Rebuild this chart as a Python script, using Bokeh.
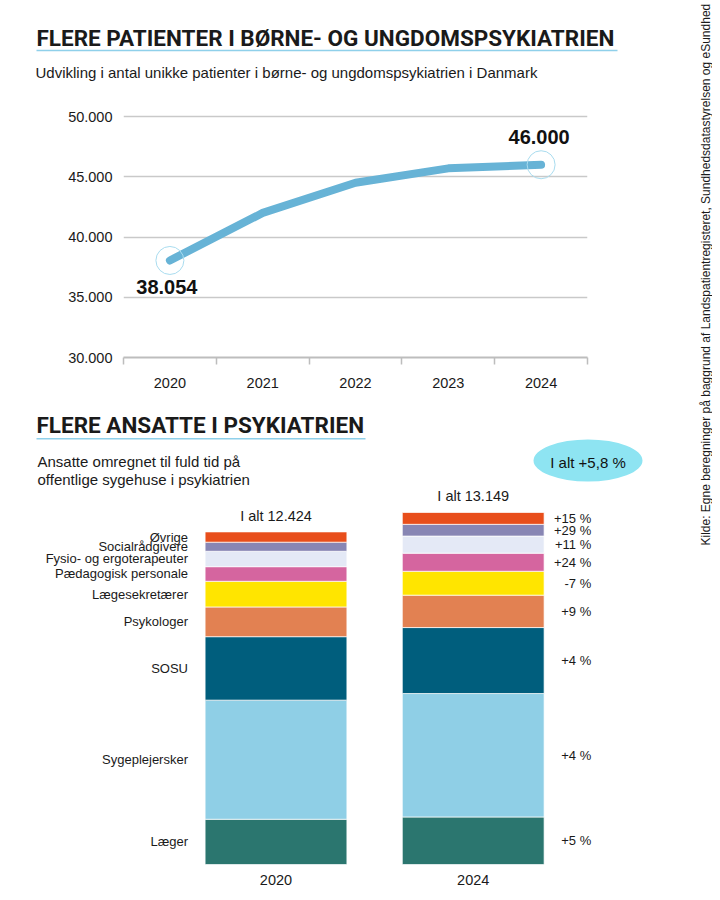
import math
from bokeh.plotting import figure
from bokeh.models import Range1d, FixedTicker, Label, ColumnDataSource
from bokeh.layouts import column, row
from bokeh.embed import file_html
from bokeh.resources import INLINE
from bokeh.core.properties import value

# ---------------- data ----------------
years = [2020, 2021, 2022, 2023, 2024]
patients = [38054, 42000, 44500, 45700, 46000]
y_ticks = [30000, 35000, 40000, 45000, 50000]
y_tick_labels = ["30.000", "35.000", "40.000", "45.000", "50.000"]

staff_years = [2020, 2024]
staff_groups = ["Læger", "Sygeplejersker", "SOSU", "Psykologer", "Lægesekretærer",
                "Pædagogisk personale", "Fysio- og ergoterapeuter", "Socialrådgivere", "Øvrige"]
staff_2020 = [1690, 4450, 2370, 1110, 960, 545, 575, 340, 384]
staff_2024 = [1775, 4611, 2465, 1210, 893, 676, 638, 439, 442]
staff_colors = ["#2b766f", "#8fcfe6", "#005e7d", "#e28152", "#ffe500",
                "#d5659f", "#e4e9f6", "#8886b4", "#e84e1b"]

title_top = "FLERE PATIENTER I BØRNE- OG UNGDOMSPSYKIATRIEN"
subtitle_top = "Udvikling i antal unikke patienter i børne- og ungdomspsykiatrien i Danmark"
title_bottom = "FLERE ANSATTE I PSYKIATRIEN"
subtitle_bottom = ["Ansatte omregnet til fuld tid på", "offentlige sygehuse i psykiatrien"]
source_text = "Kilde: Egne beregninger på baggrund af Landspatientregisteret,  Sundhedsdatastyrelsen og eSundhed"

# ---------------- styles ----------------
TITLE_FONT = "Roboto"
FONT = "Liberation Sans"
DARK = "#1a1a1a"
W_MAIN = 684


def dk(n):
    return f"{n:,}".replace(",", ".")


def blank(w, h, xr, yr):
    p = figure(width=w, height=h, x_range=xr, y_range=yr, x_axis_type=None, y_axis_type=None,
               toolbar_location=None, output_backend="svg", min_border=0, frame_align=False)
    p.outline_line_color = None
    p.background_fill_color = "white"
    p.border_fill_color = "white"
    return p


# ---------------- header (top) ----------------
pa = blank(W_MAIN, 98, Range1d(0, W_MAIN), Range1d(98, 0))
pa.add_layout(Label(x=36, y=37, text=title_top, text_font=TITLE_FONT, text_font_style="bold",
                    text_font_size="22.5px", text_baseline="middle", text_color=DARK))
pa.segment(x0=[36], y0=[50], x1=[617], y1=[50], line_color="#8fd0ea", line_width=1.5)
pa.add_layout(Label(x=35, y=72, text=subtitle_top, text_font=FONT, text_font_size="15px",
                    text_baseline="middle", text_color=DARK))

# ---------------- line chart ----------------
pb = figure(width=W_MAIN, height=306, x_range=Range1d(2019.5, 2024.5), y_range=Range1d(30000, 51000),
            toolbar_location=None, output_backend="svg", frame_align=False,
            min_border_left=123, min_border_right=97, min_border_top=6, min_border_bottom=47)
pb.outline_line_color = None
pb.xgrid.visible = False
pb.ygrid.ticker = FixedTicker(ticks=y_ticks)
pb.ygrid.grid_line_color = "#c9c9c9"
pb.ygrid.grid_line_width = 1.5

pb.yaxis.ticker = FixedTicker(ticks=y_ticks)
pb.yaxis.major_label_overrides = dict(zip(y_ticks, y_tick_labels))
pb.yaxis.axis_line_color = None
pb.yaxis.major_tick_line_color = None
pb.yaxis.major_tick_out = 0
pb.yaxis.minor_tick_line_color = None
pb.yaxis.major_label_standoff = 11
pb.yaxis.major_label_text_font = FONT
pb.yaxis.major_label_text_font_size = "14.5px"
pb.yaxis.major_label_text_color = DARK

bounds = [y - 0.5 for y in years] + [years[-1] + 0.5]
pb.xaxis.ticker = FixedTicker(ticks=years, minor_ticks=bounds)
pb.xaxis.axis_line_color = "#bdbdbd"
pb.xaxis.axis_line_width = 2
pb.xaxis.major_tick_line_color = None
pb.xaxis.major_tick_out = 0
pb.xaxis.minor_tick_line_color = "#bdbdbd"
pb.xaxis.minor_tick_line_width = 1.5
pb.xaxis.minor_tick_in = 0
pb.xaxis.minor_tick_out = 7
pb.xaxis.major_label_standoff = 13
pb.xaxis.major_label_text_font = FONT
pb.xaxis.major_label_text_font_size = "14.5px"
pb.xaxis.major_label_text_color = DARK

pb.line(years, patients, line_width=8, line_color="#67b3d6", line_cap="round", line_join="round")
pb.scatter([years[0], years[-1]], [patients[0], patients[-1]], size=28, fill_color=None,
           line_color="#a9dcef", line_width=1)
vsrc = ColumnDataSource(dict(x=[years[0], years[-1]], y=[patients[0], patients[-1]],
                             t=[dk(patients[0]), dk(patients[-1])], dy=[27, -28], dx=[-3, -2]))
pb.text(x="x", y="y", text="t", source=vsrc, y_offset="dy", x_offset="dx", text_align="center",
        text_baseline="middle", text_font=value(FONT), text_font_style="bold",
        text_font_size="20px", text_color="#111111")

# ---------------- stacked bars ----------------
C_H, C_FRAME_H = 488, 460
PX_PER_YEAR = 49.3
XS = 2020 - 275.5 / PX_PER_YEAR
XE = XS + W_MAIN / PX_PER_YEAR
YE = 17183.0
BAR_W = 141.8 / PX_PER_YEAR


def cx(px):
    return XS + px / PX_PER_YEAR


def cy(py):
    return YE * (1 - py / C_FRAME_H)


pc = figure(width=W_MAIN, height=C_H, x_range=Range1d(XS, XE), y_range=Range1d(0, YE),
            y_axis_type=None, toolbar_location=None, output_backend="svg", frame_align=False,
            min_border_left=0, min_border_right=0, min_border_top=0, min_border_bottom=C_H - C_FRAME_H)
pc.outline_line_color = None
pc.xgrid.visible = False
pc.xaxis.ticker = FixedTicker(ticks=staff_years)
pc.xaxis.axis_line_color = None
pc.xaxis.major_tick_line_color = None
pc.xaxis.major_tick_out = 0
pc.xaxis.minor_tick_line_color = None
pc.xaxis.major_label_standoff = 10
pc.xaxis.major_label_text_font = FONT
pc.xaxis.major_label_text_font_size = "14.5px"
pc.xaxis.major_label_text_color = DARK

data = {"year": staff_years}
for g, a, b in zip(staff_groups, staff_2020, staff_2024):
    data[g] = [a, b]
src = ColumnDataSource(data)
pc.vbar_stack(staff_groups, x="year", width=BAR_W, color=staff_colors, line_color="white",
              line_width=1, line_alpha=0.7, source=src)

# segment centres
c20, c24 = [], []
b20 = b24 = 0
for a, b in zip(staff_2020, staff_2024):
    c20.append(b20 + a / 2)
    c24.append(b24 + b / 2)
    b20 += a
    b24 += b
tot20, tot24 = sum(staff_2020), sum(staff_2024)
pcts = [f"{(b / a - 1) * 100:+.0f} %" for a, b in zip(staff_2020, staff_2024)]

pc.text(x=[staff_years[0]] * len(staff_groups), y=c20, text=staff_groups, x_offset=-88,
        text_align="right", text_baseline="middle", text_font=value(FONT),
        text_font_size="13px", text_color=DARK)
pc.text(x=[staff_years[1]] * len(staff_groups), y=c24, text=pcts, x_offset=118,
        text_align="right", text_baseline="middle", text_font=value(FONT),
        text_font_size="13px", text_color=DARK)
pc.text(x=staff_years, y=[tot20, tot24], text=[f"I alt {dk(tot20)}", f"I alt {dk(tot24)}"],
        y_offset=-16, text_align="center", text_baseline="middle", text_font=value(FONT),
        text_font_size="14.5px", text_color=DARK)

pc.add_layout(Label(x=cx(36), y=cy(20), text=title_bottom, text_font=TITLE_FONT, text_font_style="bold",
                    text_font_size="22.5px", text_baseline="middle", text_color=DARK))
pc.segment(x0=[cx(36)], y0=[cy(34.3)], x1=[cx(365)], y1=[cy(34.3)], line_color="#8fd0ea", line_width=1.5)
pc.add_layout(Label(x=cx(37), y=cy(56.5), text=subtitle_bottom[0], text_font=FONT, text_font_size="15px",
                    text_baseline="middle", text_color=DARK))
pc.add_layout(Label(x=cx(37), y=cy(74.5), text=subtitle_bottom[1], text_font=FONT, text_font_size="15px",
                    text_baseline="middle", text_color=DARK))

tot_pct = (tot24 / tot20 - 1) * 100
pc.ellipse(x=[cx(587.5)], y=[cy(56)], width=109, height=42, width_units="screen",
           height_units="screen", fill_color="#8ee4f2", line_color=None)
pc.text(x=[cx(587.5)], y=[cy(58)], text=[f"I alt {tot_pct:+.1f} %".replace(".", ",")],
        text_align="center", text_baseline="middle", text_font=value(FONT),
        text_font_size="15px", text_color="#111111")

# ---------------- source strip ----------------
ps = blank(28, 892, Range1d(0, 28), Range1d(892, 0))
ps.add_layout(Label(x=21, y=545, text=source_text, angle=math.pi / 2, text_align="left",
                    text_baseline="middle", text_font=FONT, text_font_size="12px", text_color=DARK))

layout = row(column(pa, pb, pc), ps)
open("out.html", "w").write(file_html(layout, INLINE))
